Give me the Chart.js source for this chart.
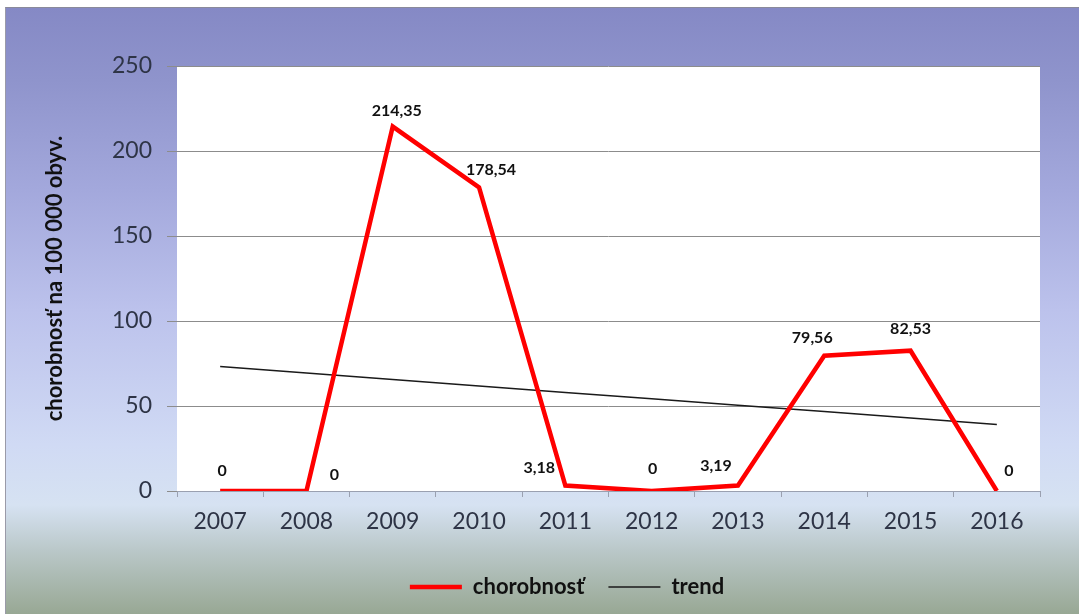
<!DOCTYPE html>
<html>
<head>
<meta charset="utf-8">
<script src="https://cdn.jsdelivr.net/npm/chart.js@4.4.1/dist/chart.umd.min.js"></script>
<style>
  html, body { margin: 0; padding: 0; background: #fff; }
  #frame {
    position: absolute; left: 5px; top: 7px; right: 0; bottom: 0;
    border-left: 1px solid #9a9aa8; border-top: 1px solid #8a8a9a;
    background: linear-gradient(to bottom,
      #8589c5 0%, #8f94cc 12%, #a3a8dc 30%, #bcc2ec 50%,
      #d0daf4 72%, #d6e2f2 82%, #b8c6c6 90%, #98a894 100%);
  }
  #wrap { position: absolute; left: 0; top: 0; width: 1079px; height: 614px; }
</style>
</head>
<body>
<div id="frame"></div>
<div id="wrap"><canvas id="chart"></canvas></div>
<script>
const years = ['2007', '2008', '2009', '2010', '2011', '2012', '2013', '2014', '2015', '2016'];
const chorobnost = [0, 0, 214.35, 178.54, 3.18, 0, 3.19, 79.56, 82.53, 0];
const trend = [73.2, 69.4, 65.6, 61.8, 58.0, 54.3, 50.5, 46.7, 42.9, 39.1];
const yTicks = [0, 50, 100, 150, 200, 250];

const FONT = 'Lato, "Open Sans", sans-serif';

// white plot area like Excel
const plotBg = {
  id: 'plotBg',
  beforeDraw(chart) {
    const { ctx, chartArea: a } = chart;
    ctx.save();
    ctx.fillStyle = '#ffffff';
    ctx.fillRect(a.left, a.top, a.right - a.left, a.bottom - a.top);
    ctx.restore();
  }
};

// value labels, placed roughly where Excel put them
const valueLabels = {
  id: 'valueLabels',
  afterDatasetsDraw(chart) {
    const ctx = chart.ctx;
    const pts = chart.getDatasetMeta(0).data;
    const shift = [[2, -20], [28, -16], [4, -16], [12, -18], [-26, -18], [1, -22], [-22, -20], [-12, -18], [0, -22], [12, -20]];
    ctx.save();
    ctx.font = 'bold 16px ' + FONT;
    ctx.fillStyle = '#111';
    ctx.textAlign = 'center';
    ctx.textBaseline = 'middle';
    pts.forEach((p, i) => {
      const txt = String(chorobnost[i]).replace('.', ',');
      ctx.fillText(txt, p.x + shift[i][0], p.y + shift[i][1]);
    });
    ctx.restore();
  }
};

// legend in the reference sits a bit right of centre
const legendShift = {
  id: 'legendShift',
  afterLayout(chart) {
    chart.legend.left += 28;
    chart.legend.right += 28;
  }
};

new Chart(document.getElementById('chart'), {
  type: 'line',
  data: {
    labels: years,
    datasets: [{
      label: 'chorobnosť',
      data: chorobnost,
      borderColor: '#ff0000',
      backgroundColor: '#ff0000',
      borderWidth: 4.5,
      pointRadius: 0,
      tension: 0,
      borderJoinStyle: 'miter'
    }, {
      label: 'trend',
      data: trend,
      borderColor: '#1a1a1a',
      backgroundColor: '#1a1a1a',
      borderWidth: 1.5,
      pointRadius: 0,
      tension: 0
    }]
  },
  options: {
    responsive: true,
    maintainAspectRatio: false,
    animation: false,
    layout: { padding: { left: 38, right: 39, top: 66, bottom: 6 } },
    scales: {
      x: {
        offset: true,
        grid: {
          display: true,
          offset: true,
          drawOnChartArea: false,
          drawTicks: true,
          tickLength: 6,
          color: '#9aa0b0'
        },
        border: { display: true, color: '#9aa0b0', width: 1 },
        ticks: { color: '#2e3446', font: { family: FONT, size: 23 }, padding: 11 },
        afterFit(scale) { scale.height = 61; }
      },
      y: {
        min: 0,
        max: 250,
        afterBuildTicks(scale) { scale.ticks = yTicks.map(v => ({ value: v })); },
        grid: { color: '#8c8c8c', lineWidth: 1, tickLength: 10, drawTicks: true },
        border: { display: false },
        ticks: { color: '#2e3446', font: { family: FONT, size: 23 }, padding: 15 },
        title: {
          display: true,
          text: 'chorobnosť na 100 000 obyv.',
          color: '#111',
          font: { family: FONT, size: 22, weight: 'bold' },
          padding: { top: 4, bottom: 0 }
        },
        afterFit(scale) { scale.width = 139; }
      }
    },
    plugins: {
      legend: {
        position: 'bottom',
        labels: {
          usePointStyle: true,
          pointStyle: 'line',
          pointStyleWidth: 52,
          boxWidth: 52,
          boxHeight: 14,
          color: '#111',
          font: { family: FONT, size: 22, weight: 'bold' },
          padding: 24
        }
      },
      tooltip: { enabled: false }
    }
  },
  plugins: [plotBg, valueLabels, legendShift]
});
</script>
</body>
</html>
